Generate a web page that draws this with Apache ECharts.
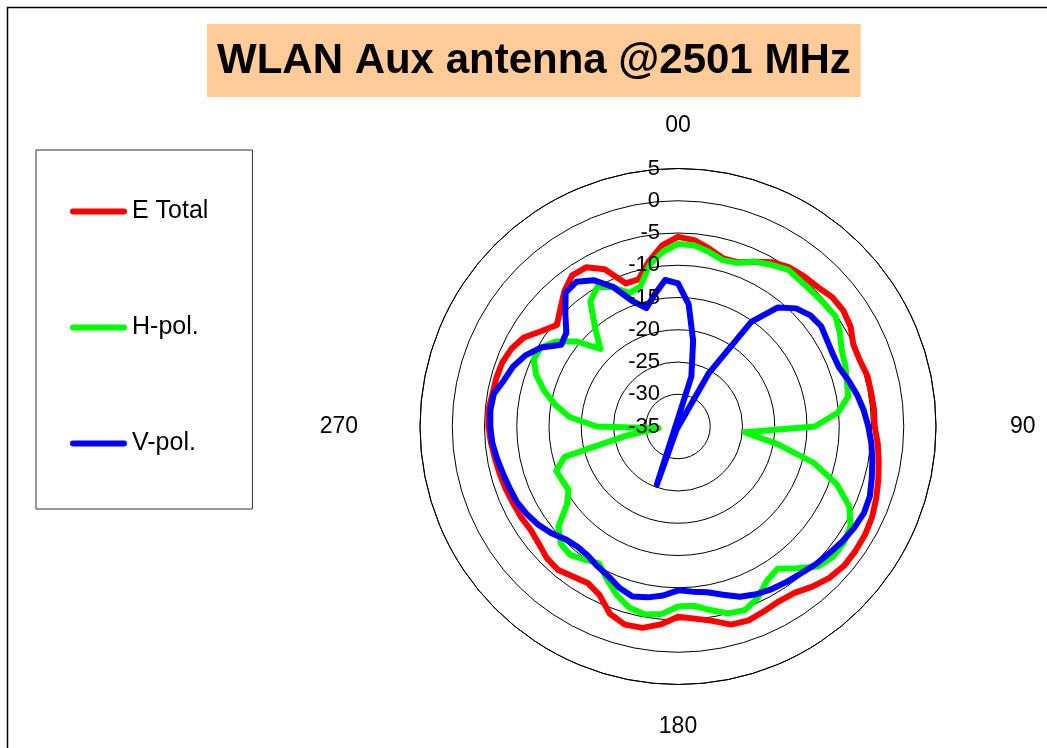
<!DOCTYPE html>
<html>
<head>
<meta charset="utf-8">
<title>WLAN Aux antenna @2501 MHz</title>
<script src="https://cdn.jsdelivr.net/npm/echarts@6/dist/echarts.min.js"></script>
<style>
    html, body { margin: 0; padding: 0; background: #fff; }
    #chart { width: 1047px; height: 748px; }
</style>
</head>
<body>
<div id="chart"></div>
<script>
    // angle in degrees, 0 at top, clockwise
    const angles = [0, 5, 10, 15, 20, 25, 30, 35, 40, 45, 50, 55, 60, 65, 70, 75, 80, 85,
        90, 95, 100, 105, 110, 115, 120, 125, 130, 135, 140, 145, 150, 155, 160, 165, 170, 175,
        180, 185, 190, 195, 200, 205, 210, 215, 220, 225, 230, 235, 240, 245, 250, 255, 260, 265,
        270, 275, 280, 285, 290, 295, 300, 305, 310, 315, 320, 325, 330, 335, 340, 345, 350, 355, 360];

    // dB values
    const eTotal = [-5.6, -6.0, -7.0, -8.0, -7.9, -6.8, -5.6, -4.9, -4.6, -4.4, -3.8, -3.7, -4.1, -5.0, -5.0, -4.6, -4.6, -4.5,
        -4.5, -3.9, -3.4, -2.85, -2.3, -1.8, -1.5, -1.4, -1.4, -1.8, -2.6, -3.5, -3.7, -3.4, -3.0, -3.2, -4.4, -5.1,
        -5.5, -4.2, -3.3, -3.2, -4.1, -6.2, -7.0, -6.6, -6.0, -6.2, -6.8, -7.1, -6.9, -6.8, -6.6, -6.4, -6.2, -5.9,
        -5.6, -5.5, -5.8, -5.85, -6.0, -6.5, -7.4, -9.2, -10.5, -9.2, -7.6, -6.4, -6.5, -8.1, -11.4, -11.4, -9.0, -6.8, -5.6];

    const hPol = [-6.7, -6.8, -7.5, -8.3, -8.0, -6.8, -6.05, -5.3, -5.5, -5.5, -5.4, -5.2, -6.0, -7.0, -7.4, -7.9, -8.2, -10.1,
        -13.8, -24.6, -19.3, -13.2, -8.8, -5.7, -4.1, -3.6, -3.6, -4.3, -6.3, -8.1, -7.4, -5.7, -4.7, -5.0, -6.1, -7.1,
        -7.1, -5.8, -5.4, -5.9, -7.2, -8.9, -10.5, -9.8, -9.0, -9.3, -10.8, -14.0, -15.4, -15.2, -14.9, -16.8, -27.0, -32.0,
        -22.4, -18.1, -15.7, -13.5, -11.6, -10.3, -10.5, -12.0, -14.5, -18.0, -15.0, -11.3, -10.0, -11.2, -13.0, -12.5, -9.6, -7.8, -6.7];

    // below -35 the point falls through the centre to the opposite side
    const vPol = [-12.8, -16.0, -21.5, -27.0, -44.6, -35.5, -25.5, -15.2, -10.9, -9.1, -8.2, -7.9, -8.3, -8.5, -8.4, -7.6, -6.8, -6.1,
        -5.5, -4.9, -4.4, -3.9, -3.35, -3.2, -3.5, -3.9, -4.4, -4.8, -5.3, -5.6, -5.9, -6.3, -6.9, -8.0, -8.9, -9.3,
        -9.6, -8.7, -8.1, -7.7, -8.4, -9.4, -10.0, -10.6, -10.7, -10.3, -9.3, -8.5, -7.9, -7.4, -7.2, -6.9, -6.5, -6.1,
        -5.9, -5.8, -6.0, -7.1, -7.8, -8.9, -10.5, -12.9, -12.4, -10.3, -7.9, -7.6, -8.8, -11.1, -14.3, -16.0, -14.2, -12.2, -12.8];

    const seriesNames = ['E Total', 'H-pol.', 'V-pol.'];
    const seriesColors = ['#ff0000', '#00ff00', '#0000ff'];
    const directionLabels = {0: '00', 90: '90', 180: '180', 270: '270'};

    const font = 'Liberation Sans, Arial, Helvetica, sans-serif';
    const center = [678, 426.5];
    const radius = 258;

    function toPairs(values) {
        return angles.map((a, i) => [values[i], a]);
    }

    let chart = echarts.init(document.getElementById('chart'));

    let option = {
        backgroundColor: '#fff',
        animation: false,
        title: {
            text: 'WLAN Aux antenna @2501 MHz',
            left: 207,
            top: 24,
            padding: [16, 10, 15, 10],
            backgroundColor: '#ffcc99',
            textStyle: {
                fontFamily: font,
                fontSize: 42,
                fontWeight: 'bold',
                color: '#000'
            }
        },
        legend: {
            orient: 'vertical',
            left: 36,
            top: 150,
            padding: [49, 44, 53, 34],
            itemGap: 91,
            itemWidth: 57,
            itemHeight: 6,
            borderColor: '#333',
            borderWidth: 1,
            icon: 'path://M3,0 H54 A3,3 0 0 1 54,6 H3 A3,3 0 0 1 3,0 Z',
            textStyle: {
                fontFamily: font,
                fontSize: 25,
                color: '#000'
            },
            data: seriesNames
        },
        // two polars on the same spot: rings under the lines, tick labels over them
        polar: [
            {center: center, radius: radius},
            {center: center, radius: radius}
        ],
        angleAxis: [
            {
                polarIndex: 0,
                type: 'value',
                min: 0,
                max: 360,
                interval: 90,
                startAngle: 90,
                clockwise: true,
                axisLine: {
                    show: true,
                    lineStyle: {color: '#000', width: 1}
                },
                axisTick: {show: false},
                splitLine: {show: false},
                axisLabel: {
                    margin: 31,
                    formatter: function (v) {
                        if (v === 90) return '{r|90}';
                        if (v === 270) return '{l|270}';
                        return directionLabels[v] || '';
                    },
                    fontFamily: font,
                    fontSize: 23,
                    color: '#000',
                    rich: {
                        r: {fontFamily: font, fontSize: 23, color: '#000', padding: [0, 0, 0, 43]},
                        l: {fontFamily: font, fontSize: 23, color: '#000', padding: [0, 31, 0, 0]}
                    }
                }
            },
            {
                polarIndex: 1,
                type: 'value',
                min: 0,
                max: 360,
                startAngle: 90,
                show: false
            }
        ],
        radiusAxis: [
            {
                polarIndex: 0,
                type: 'value',
                min: -35,
                max: 5,
                interval: 5,
                axisLine: {show: false},
                axisTick: {show: false},
                axisLabel: {show: false},
                splitLine: {
                    show: true,
                    lineStyle: {color: '#000', width: 1}
                }
            },
            {
                polarIndex: 1,
                type: 'value',
                min: -35,
                max: 5,
                interval: 5,
                z: 10,
                axisLine: {show: false},
                axisTick: {show: false},
                splitLine: {show: false},
                axisLabel: {
                    margin: 18,
                    fontFamily: font,
                    fontSize: 22,
                    color: '#000'
                }
            }
        ],
        graphic: [
            {
                type: 'rect',
                shape: {x: 7.5, y: 7.5, width: 1200, height: 900},
                style: {fill: 'none', stroke: '#000', lineWidth: 1.5},
                silent: true
            }
        ],
        series: [eTotal, hPol, vPol].map((values, i) => ({
            name: seriesNames[i],
            type: 'line',
            coordinateSystem: 'polar',
            polarIndex: 0,
            data: toPairs(values),
            symbol: 'none',
            smooth: false,
            clip: false,
            color: seriesColors[i],
            lineStyle: {color: seriesColors[i], width: 6, cap: 'round', join: 'round'}
        }))
    };

    chart.setOption(option);
</script>
</body>
</html>
